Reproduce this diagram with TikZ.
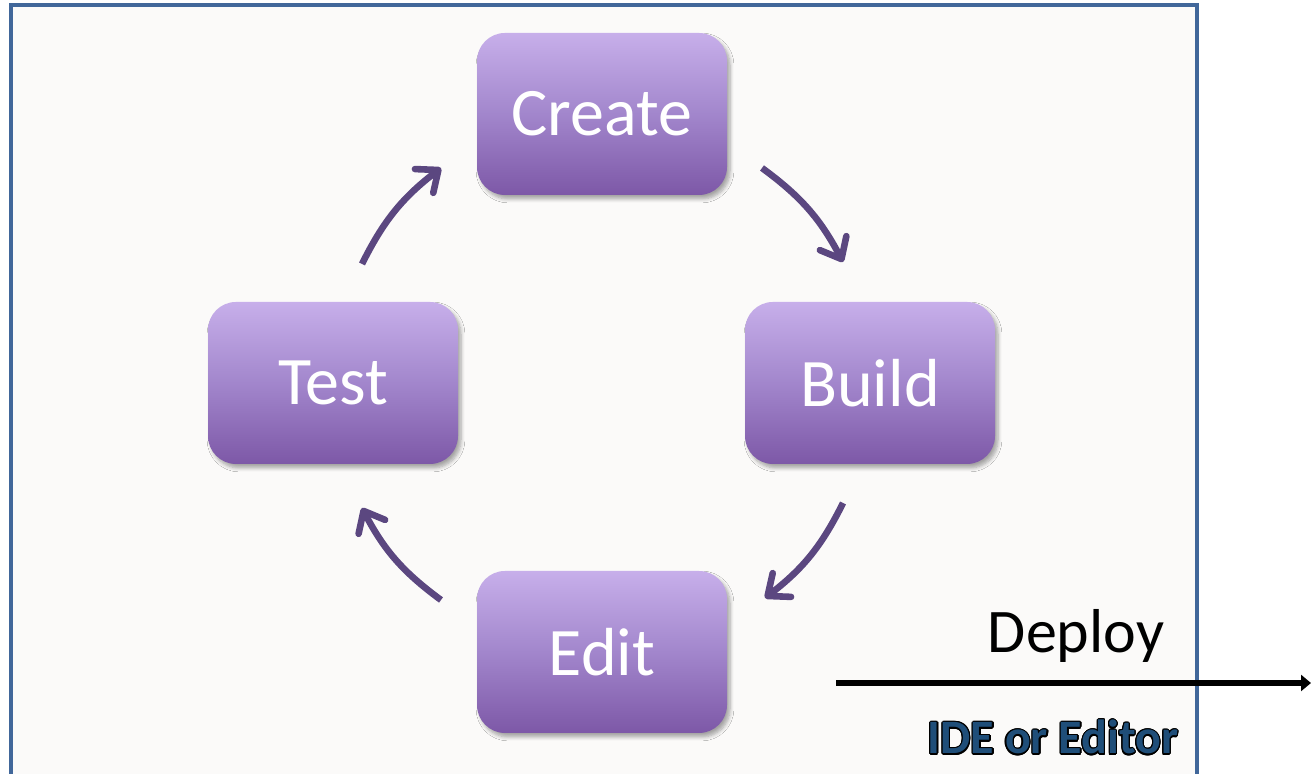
\documentclass[tikz,border=0pt]{standalone}
\usepackage{fontspec}
\setmainfont{Carlito}
\usepackage{contour}
\contourlength{0.6pt}
\usepackage{tikz}
\usetikzlibrary{arrows.meta,shadows.blur,positioning}

\definecolor{frameblue}{HTML}{41679A}
\definecolor{cyclepurple}{HTML}{5B4780}
\definecolor{boxtop}{HTML}{C7AFEA}
\definecolor{boxmid}{HTML}{A286CC}
\definecolor{boxbot}{HTML}{7D58A7}
\definecolor{idefill}{HTML}{1F4E79}
\definecolor{paper}{HTML}{FBFAF9}

\begin{document}
\begin{tikzpicture}[x=0.5pt,y=0.5pt,>=Stealth,
  stage/.style={rectangle,rounded corners=14pt,minimum width=125pt,minimum height=81pt,
    top color=boxtop,bottom color=boxbot,middle color=boxmid,text=white,
    font=\fontsize{34}{40}\selectfont,
    blur shadow={shadow xshift=1.5pt,shadow yshift=-2pt,shadow blur steps=6,shadow opacity=35}},
  cyc/.style={cyclepurple,line width=3.3pt,-{Straight Barb[length=9pt,width=15pt,round]},bend left=13}]
\useasboundingbox (0,0) rectangle (1312,774);
\draw[frameblue,line width=2pt,fill=paper] (10.5,-20) rectangle (1197,769);

\node (cr) [stage] at (602,660) {Create};
\node (bd) [stage] at (870,391) {Build};
\node (ed) [stage] at (602,122) {Edit};
\node (ts) [stage] at (333,391) {Test};

% ends of the curved arrows
\coordinate (cr-bd1) at (762,606);
\coordinate (cr-bd2) at (843,512);
\coordinate (bd-ed1) at (843,271);
\coordinate (bd-ed2) at (765,176);
\coordinate (ed-ts1) at (441,174);
\coordinate (ed-ts2) at (362,266);
\coordinate (ts-cr1) at (362,510);
\coordinate (ts-cr2) at (441,606);

\draw[cyc] (cr-bd1) to (cr-bd2);
\draw[cyc] (bd-ed1) to (bd-ed2);
\draw[cyc] (ed-ts1) to (ed-ts2);
\draw[cyc] (ts-cr1) to (ts-cr2);

\coordinate (dep1) at (836,91);
\coordinate (dep2) at (1311,91);
\draw[line width=2.8pt,-{Triangle[length=5pt,width=8pt]}] (dep1) -- (dep2);
\node (dep) [anchor=base,font=\fontsize{31}{36}\selectfont] at (1076,121) {Deploy};
\node (ide) [anchor=base,text=idefill,font=\fontsize{24}{28}\selectfont\bfseries] at (1053,20) {\contour{black}{IDE or Editor}};
\end{tikzpicture}
\end{document}
